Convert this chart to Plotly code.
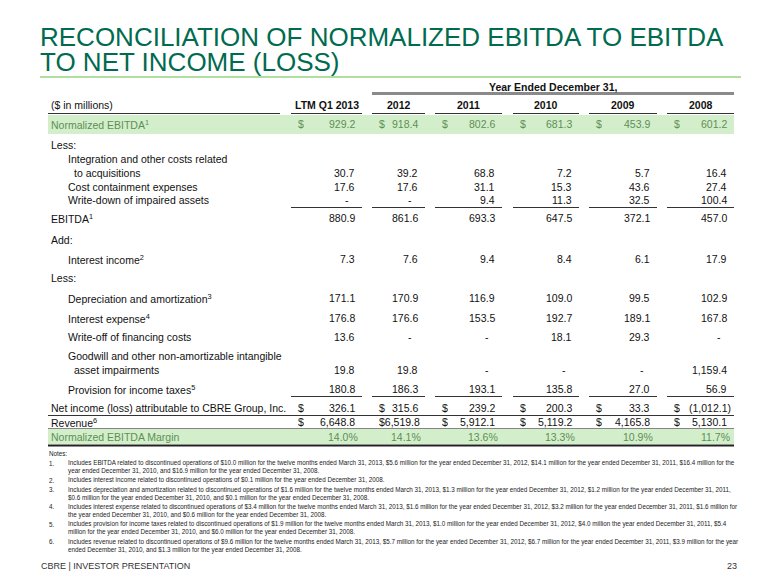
import plotly.graph_objects as go

# ---------------- data ----------------
columns = ["LTM Q1 2013", "2012", "2011", "2010", "2009", "2008"]
normalized_ebitda = [929.2, 918.4, 802.6, 681.3, 453.9, 601.2]
integration_costs = [30.7, 39.2, 68.8, 7.2, 5.7, 16.4]
cost_containment = [17.6, 17.6, 31.1, 15.3, 43.6, 27.4]
write_down_assets = [None, None, 9.4, 11.3, 32.5, 100.4]
ebitda = [880.9, 861.6, 693.3, 647.5, 372.1, 457.0]
interest_income = [7.3, 7.6, 9.4, 8.4, 6.1, 17.9]
depreciation = [171.1, 170.9, 116.9, 109.0, 99.5, 102.9]
interest_expense = [176.8, 176.6, 153.5, 192.7, 189.1, 167.8]
write_off_financing = [13.6, None, None, 18.1, 29.3, None]
goodwill_impairments = [19.8, 19.8, None, None, None, 1159.4]
provision_taxes = [180.8, 186.3, 193.1, 135.8, 27.0, 56.9]
net_income = [326.1, 315.6, 239.2, 200.3, 33.3, -1012.1]
revenue = [6648.8, 6519.8, 5912.1, 5119.2, 4165.8, 5130.1]
ebitda_margin = [14.0, 14.1, 13.6, 13.3, 10.9, 11.7]

title_lines = ["RECONCILIATION OF NORMALIZED EBITDA TO EBITDA", "TO NET INCOME (LOSS)"]
notes = [
    ("1.", ["Includes EBITDA related to discontinued operations of $10.0 million for the twelve months ended March 31, 2013, $5.6 million for the year ended December 31, 2012, $14.1 million for the year ended December 31, 2011, $16.4 million for the",
            "year ended December 31, 2010, and $16.9 million for the year ended December 31, 2008."]),
    ("2.", ["Includes interest income related to discontinued operations of $0.1 million for the year ended December 31, 2008."]),
    ("3.", ["Includes depreciation and amortization related to discontinued operations of $1.6 million for the twelve months ended March 31, 2013, $1.3 million for the year ended December 31, 2012, $1.2 million for the year ended December 31, 2011,",
            "$0.6 million for the year ended December 31, 2010, and $0.1 million for the year ended December 31, 2008."]),
    ("4.", ["Includes interest expense related to discontinued operations of $3.4 million for the twelve months ended March 31, 2013, $1.6 million for the year ended December 31, 2012, $3.2 million for the year ended December 31, 2011, $1.6 million for",
            "the year ended December 31, 2010, and $0.6 million for the year ended December 31, 2008."]),
    ("5.", ["Includes provision for income taxes related to discontinued operations of $1.9 million for the twelve months ended March 31, 2013, $1.0 million for the year ended December 31, 2012, $4.0 million the year ended December 31, 2011, $5.4",
            "million for the year ended December 31, 2010, and $6.0 million for the year ended December 31, 2008."]),
    ("6.", ["Includes revenue related to discontinued operations of $9.6 million for the twelve months ended March 31, 2013, $5.7 million for the year ended December 31, 2012, $6.7 million for the year ended December 31, 2011, $3.9 million for the year",
            "ended December 31, 2010, and $1.3 million for the year ended December 31, 2008."]),
]

# ---------------- layout / style ----------------
FONT = "Liberation Sans, Arial, sans-serif"
FS = 10.5
NOTE_FS = 6.3
NOTE_COL = "#222222"
GREEN_T = "#006B4F"
GREEN_LINE = "#93D47F"
BAND = "#D3EECB"
BAND_TXT = "#5E8F55"
TXT = "#111111"
RULE = "#333333"
PAGE_OFFSET = 8  # default body margin of the html page

seg_left = [291, 372, 435, 513, 589, 667]
seg_right = [362, 425, 502, 579, 657, 734]
val_right = [r - 6 for r in seg_right]
dollar_x = [l + 10 for l in seg_left]
LX0, LX1, LX2 = 50, 67, 73
TABLE_L, TABLE_R = 48, 734

ann = []
shapes = []


def txt(x, y, s, size=FS, color=TXT, anchor="left", bold=False, xshift=0):
    if bold:
        s = "<b>" + s + "</b>"
    ann.append(dict(x=x, y=y, xref="x", yref="y", text=s, showarrow=False,
                    xanchor=anchor, yanchor="middle", borderpad=0, xshift=xshift,
                    font=dict(family=FONT, size=size, color=color)))


def hline(x0, x1, y, color=RULE, width=1):
    shapes.append(dict(type="line", xref="x", yref="y", x0=x0, x1=x1, y0=y, y1=y,
                       line=dict(color=color, width=width)))


def band(y0, y1):
    shapes.append(dict(type="rect", xref="x", yref="y", x0=TABLE_L, x1=TABLE_R, y0=y0, y1=y1,
                       fillcolor=BAND, line=dict(width=0), layer="below"))


def fmt(v):
    if v < 0:
        return "({:,.1f})".format(-v)
    return "{:,.1f}".format(v)


def est_width(s, size=FS):
    w = 0.0
    for ch in s:
        w += 0.278 if ch in ",.()" else 0.556
    return w * size


def value_row(y, vals, dollars=False, color=TXT):
    for i, v in enumerate(vals):
        if v is None:
            txt(val_right[i], y, "-", color=color, anchor="right", xshift=-6)
            continue
        s = fmt(v)
        shift = 4 if v < 0 else 0
        if dollars and val_right[i] - est_width(s) < dollar_x[i] + 4:
            # too tight: dollar sign sits right against the number
            txt(val_right[i], y, "$" + s, color=color, anchor="right", xshift=2)
            continue
        txt(val_right[i], y, s, color=color, anchor="right", xshift=shift)
        if dollars:
            txt(dollar_x[i], y, "$", color=color, anchor="center")


# title
txt(38.5, 37, title_lines[0], size=26, color=GREEN_T)
txt(38.5, 62, title_lines[1], size=26, color=GREEN_T)
hline(40, 741, 77, GREEN_LINE, 1.5)

# header
txt((seg_left[1] + seg_right[-1]) / 2, 87, "Year Ended December 31,", anchor="center", bold=True)
hline(seg_left[1], seg_right[-1], 93.5, "#8A8A8A", 3)
txt(LX0, 105, "($ in millions)")
hline(TABLE_L, 280, 113.5)
for i, c in enumerate(columns):
    txt((seg_left[i] + seg_right[i]) / 2, 105, c, anchor="center", bold=True)
    hline(seg_left[i], seg_right[i], 113.5)

# normalized EBITDA band row
band(115, 134)
txt(LX0, 124, "Normalized EBITDA<sup>1</sup>", color=BAND_TXT)
value_row(124, normalized_ebitda, dollars=True, color=BAND_TXT)

txt(LX0, 145, "Less:")
txt(LX1, 159, "Integration and other costs related")
txt(LX2, 173, "to acquisitions")
value_row(173, integration_costs)
txt(LX1, 187, "Cost containment expenses")
value_row(187, cost_containment)
txt(LX1, 200, "Write-down of impaired assets")
value_row(200, write_down_assets)
for i in range(len(columns)):
    hline(seg_left[i], seg_right[i], 207.5)

txt(LX0, 218, "EBITDA<sup>1</sup>")
value_row(218, ebitda)
txt(LX0, 240, "Add:")
txt(LX1, 259, "Interest income<sup>2</sup>")
value_row(259, interest_income)
txt(LX0, 278, "Less:")
txt(LX1, 298, "Depreciation and amortization<sup>3</sup>")
value_row(298, depreciation)
txt(LX1, 318, "Interest expense<sup>4</sup>")
value_row(318, interest_expense)
txt(LX1, 337, "Write-off of financing costs")
value_row(337, write_off_financing)
txt(LX1, 356, "Goodwill and other non-amortizable intangible")
txt(LX2, 370, "asset impairments")
value_row(370, goodwill_impairments)
txt(LX1, 389, "Provision for income taxes<sup>5</sup>")
value_row(389, provision_taxes)
for i in range(len(columns)):
    hline(seg_left[i], seg_right[i], 396.5)

txt(LX0, 408, "Net income (loss) attributable to CBRE Group, Inc.")
value_row(408, net_income, dollars=True)
hline(TABLE_L, TABLE_R, 415.5)
txt(LX0, 422, "Revenue<sup>6</sup>")
value_row(422, revenue, dollars=True)
hline(TABLE_L, TABLE_R, 428.5, "#666666", 0.8)
band(429, 444)
txt(LX0, 436.5, "Normalized EBITDA Margin", color=BAND_TXT)
for i, m in enumerate(ebitda_margin):
    txt(val_right[i], 436.5, "{:.1f}%".format(m), color=BAND_TXT, anchor="right", xshift=3)
hline(TABLE_L, TABLE_R, 445.5, "#222222", 2)

# notes
txt(LX0 - 2, 453, "Notes:", size=NOTE_FS, color=NOTE_COL)
ny = 463
for num, lines in notes:
    txt(LX0 - 2, ny, num, size=NOTE_FS, color=NOTE_COL)
    for ln in lines:
        txt(LX1, ny, ln, size=NOTE_FS, color=NOTE_COL)
        ny += 8
    ny += 1.3

# footer
txt(40, 566, "CBRE | INVESTOR PRESENTATION", size=9, color="#333333")
txt(738, 566, "23", size=9, color="#333333", anchor="right")

fig = go.Figure()
fig.update_layout(
    width=780, height=585,
    margin=dict(l=0, r=0, t=0, b=0),
    paper_bgcolor="white", plot_bgcolor="white",
    xaxis=dict(range=[PAGE_OFFSET, 780 + PAGE_OFFSET], visible=False, fixedrange=True),
    yaxis=dict(range=[585 + PAGE_OFFSET, PAGE_OFFSET], visible=False, fixedrange=True),
    annotations=ann, shapes=shapes, showlegend=False,
)
fig.write_html("out.html")
